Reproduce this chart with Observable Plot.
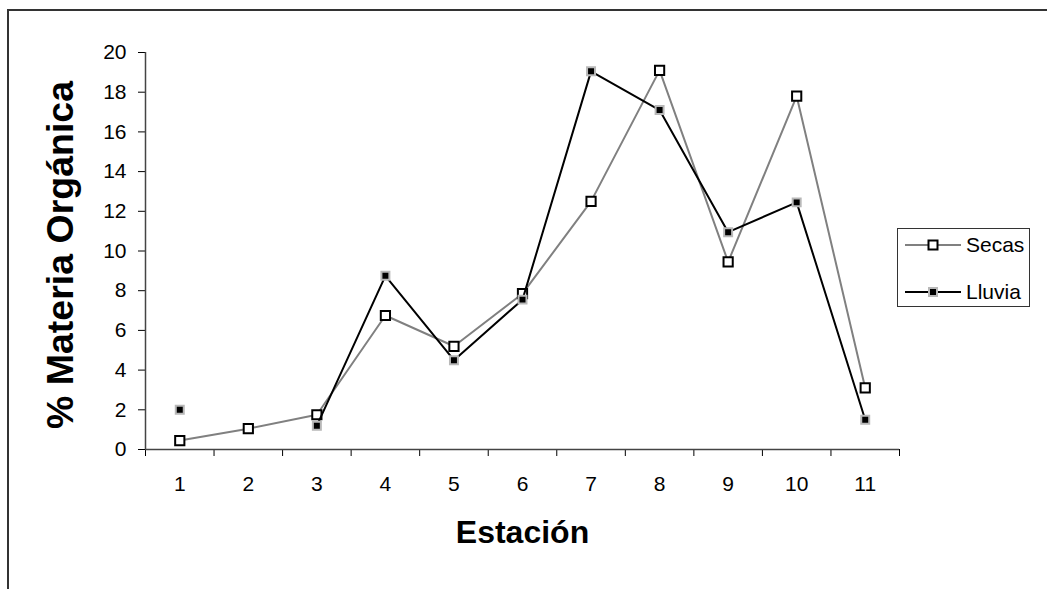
<!DOCTYPE html>
<html><head><meta charset="utf-8">
<script src="https://cdn.jsdelivr.net/npm/d3@7"></script>
<script src="https://cdn.jsdelivr.net/npm/@observablehq/plot@0.6"></script>
<style>
body{margin:0;background:#fff;}
#wrap{position:relative;width:1047px;height:589px;overflow:hidden;font-family:"Liberation Sans",Arial,sans-serif;background:#fff;}
#frame{position:absolute;left:7px;top:9px;width:1100px;height:700px;border:2px solid #333;}
#chart{position:absolute;left:0;top:0;}
#legend{position:absolute;left:897px;top:228px;width:131px;height:77px;border:1px solid #333;background:#fff;}
#legend .row{position:absolute;left:0;height:24px;display:flex;align-items:center;font-size:21px;color:#000;}
#legend svg{margin-left:7px;margin-right:5px;}
</style></head><body>
<div id="wrap"><div id="frame"></div><div id="chart"></div><div id="legend"></div></div>
<script>
const estaciones = [1, 2, 3, 4, 5, 6, 7, 8, 9, 10, 11];
const secas = [0.45, 1.05, 1.75, 6.75, 5.2, 7.85, 12.5, 19.1, 9.45, 17.8, 3.1];
const lluvia = [2.0, null, 1.2, 8.75, 4.5, 7.55, 19.05, 17.1, 10.95, 12.45, 1.5];
const yTicks = [0, 2, 4, 6, 8, 10, 12, 14, 16, 18, 20];
const seriesNames = ["Secas", "Lluvia"];
const yTitle = "% Materia Orgánica";
const xTitle = "Estación";

const boundaries = d3.range(0.5, estaciones.length + 1, 1);
const dSecas = estaciones.map((e, i) => ({x: e, y: secas[i]}));
const dLluvia = estaciones.map((e, i) => ({x: e, y: lluvia[i]}));

const font = '"Liberation Sans", Arial, sans-serif';
const chart = Plot.plot({
  width: 1047,
  height: 589,
  marginLeft: 145,
  marginRight: 148,
  marginTop: 52,
  marginBottom: 140,
  style: {background: "transparent", fontFamily: font, color: "#000"},
  x: {type: "linear", domain: [0.5, estaciones.length + 0.5]},
  y: {domain: [0, 20]},
  marks: [
    Plot.axisY({ticks: yTicks, tickSize: 7, tickPadding: 12, fontSize: 21, label: null, stroke: "#000"}),
    Plot.axisX({ticks: boundaries, tickSize: 7, tickFormat: () => "", label: null, stroke: "#000"}),
    Plot.axisX({ticks: estaciones, tickSize: 0, tickPadding: 27, fontSize: 21, label: null}),
    Plot.ruleY([0], {stroke: "#444", strokeWidth: 1.5}),
    Plot.ruleX([0.5], {stroke: "#444", strokeWidth: 1.5}),
    Plot.line(dSecas, {x: "x", y: "y", stroke: "#808080", strokeWidth: 2}),
    Plot.dot(dSecas, {x: "x", y: "y", symbol: "square", r: 5.2, fill: "#fff", stroke: "#000", strokeWidth: 2}),
    Plot.line(dLluvia, {x: "x", y: "y", stroke: "#000", strokeWidth: 2}),
    Plot.dot(dLluvia.filter(d => d.y != null), {x: "x", y: "y", symbol: "square", r: 4.5, fill: "#000", stroke: "#b8b8b8", strokeWidth: 2}),
    Plot.text([yTitle], {frameAnchor: "left", textAnchor: "middle", dx: -85, dy: 4, rotate: -90, fontSize: 37.5, fontWeight: "bold", fill: "#000"}),
    Plot.text([xTitle], {frameAnchor: "bottom", dy: 93, fontSize: 32, fontWeight: "bold", fill: "#000"})
  ]
});
document.getElementById("chart").appendChild(chart);

// legend
const legend = document.getElementById("legend");
const styles = [
  {line: "#808080", fill: "#fff", stroke: "#000", size: 9},
  {line: "#000", fill: "#000", stroke: "#b8b8b8", size: 8}
];
const rowTops = [4, 51];
seriesNames.forEach((name, i) => {
  const s = styles[i];
  const row = document.createElement("div");
  row.className = "row";
  row.style.top = rowTops[i] + "px";
  const svg = d3.create("svg").attr("width", 56).attr("height", 24);
  svg.append("line").attr("x1", 0).attr("x2", 56).attr("y1", 12).attr("y2", 12).attr("stroke", s.line).attr("stroke-width", 2);
  svg.append("rect").attr("x", 28 - s.size / 2).attr("y", 12 - s.size / 2).attr("width", s.size).attr("height", s.size)
    .attr("fill", s.fill).attr("stroke", s.stroke).attr("stroke-width", 2);
  row.appendChild(svg.node());
  const t = document.createElement("span");
  t.textContent = name;
  row.appendChild(t);
  legend.appendChild(row);
});
</script>
</body></html>
